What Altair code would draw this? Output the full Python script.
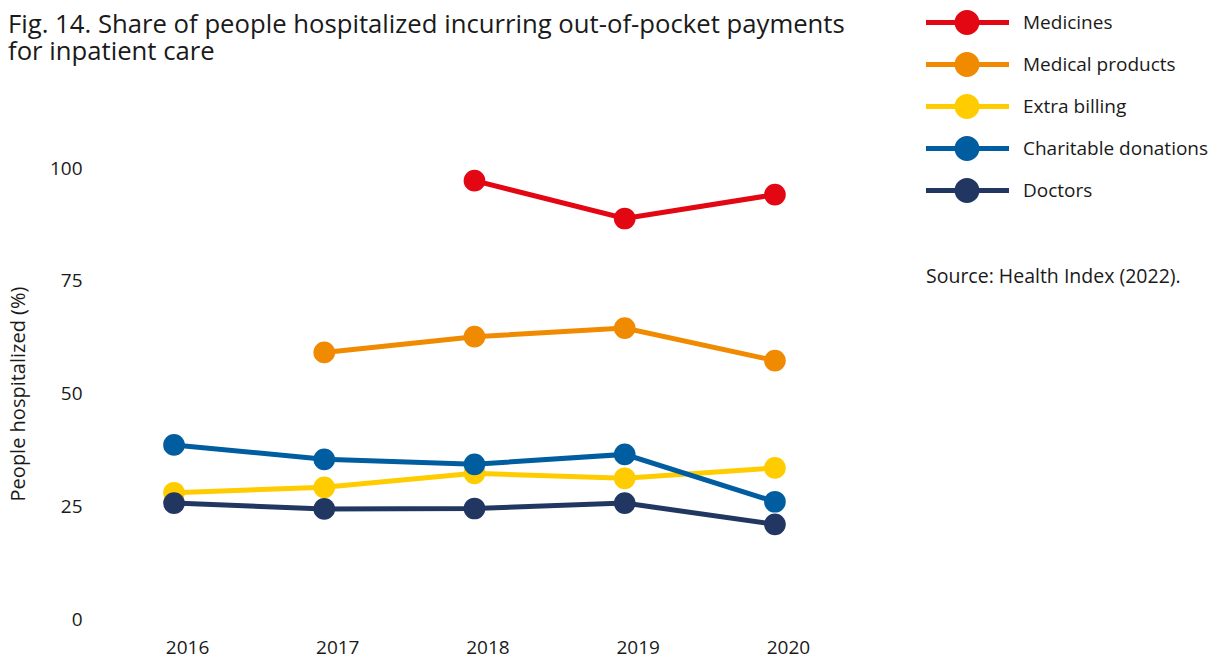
import altair as alt
import pandas as pd

years = [2016, 2017, 2018, 2019, 2020]
series_names = ["Medicines", "Medical products", "Extra billing", "Charitable donations", "Doctors"]
medicines = [None, None, 97.2, 88.8, 94.1]
medical_products = [None, 59.1, 62.6, 64.5, 57.3]
extra_billing = [28.0, 29.2, 32.3, 31.2, 33.5]
charitable_donations = [38.6, 35.4, 34.3, 36.5, 26.0]
doctors = [25.7, 24.4, 24.5, 25.7, 21.0]
colors = ["#E30613", "#F08A00", "#FFCC00", "#005EA0", "#213762"]

rows = []
for name, vals in zip(series_names, [medicines, medical_products, extra_billing, charitable_donations, doctors]):
    for yr, v in zip(years, vals):
        if v is not None:
            rows.append({"year": yr, "series": name, "value": v})
df = pd.DataFrame(rows)

FONT = "Open Sans"
TXT = "#1a1a1a"

# legend symbol: line with a circle on it (unit coordinates)
legend_symbol = ("M-1,-0.2H5.64V0.2H-1Z "
                 "M3.28,0A1,1,0,1,1,1.28,0A1,1,0,1,1,3.28,0Z")

color = alt.Color(
    "series:N",
    scale=alt.Scale(domain=series_names, range=colors),
    sort=series_names,
    legend=alt.Legend(
        title="Source: Health Index (2022).",
        titleOrient="bottom",
        titleAnchor="start",
        titlePadding=65,
        titleFont=FONT,
        titleFontSize=19.5,
        titleFontWeight="normal",
        titleColor=TXT,
        titleLimit=400,
        orient="none",
        legendX=831,
        legendY=-158,
        padding=0,
        symbolType=legend_symbol,
        symbolSize=625,
        symbolStrokeWidth=0,
        symbolOpacity=1,
        labelOffset=72,
        labelFont=FONT,
        labelFontSize=19,
        labelColor=TXT,
        labelLimit=400,
        rowPadding=17,
    ),
)

x = alt.X(
    "year:Q",
    scale=alt.Scale(domain=[2015.474, 2020.3], nice=False, zero=False),
    axis=alt.Axis(
        values=years, format="d", title=None, domain=False, ticks=False, grid=False,
        labelFont=FONT, labelFontSize=19, labelColor=TXT, labelPadding=19,
        labelOffset=13,
    ),
)
y = alt.Y(
    "value:Q",
    scale=alt.Scale(domain=[0, 100], nice=False),
    axis=alt.Axis(
        values=[0, 25, 50, 75, 100], title="People hospitalized (%)", domain=False,
        ticks=False, grid=False, labelFont=FONT, labelFontSize=19, labelColor=TXT,
        labelPadding=13, titleFont=FONT, titleFontSize=20, titleFontWeight="normal",
        titleColor=TXT, titlePadding=21,
    ),
)

lines = alt.Chart(df).mark_line(strokeWidth=5).encode(
    x=x, y=y, color=color, detail="series:N",
)
points = alt.Chart(df).mark_point(filled=True, opacity=1, size=470, shape="circle").encode(
    x=x, y=y, color=color,
)

chart = alt.layer(lines, points).properties(
    width=725,
    height=451,
    padding={"left": 87, "top": 160, "right": 389, "bottom": 40},
    autosize=alt.AutoSizeParams(type="none"),
    title=alt.TitleParams(
        text=["Fig. 14. Share of people hospitalized incurring out-of-pocket payments", "for inpatient care"],
        anchor="start",
        frame="group",
        font=FONT,
        fontSize=25.7,
        fontWeight="normal",
        color=TXT,
        lineHeight=27,
        dx=-87,
        dy=60,
    ),
).configure_view(stroke=None)

chart.save("out.html", embed_options={"renderer": "svg", "actions": False})
